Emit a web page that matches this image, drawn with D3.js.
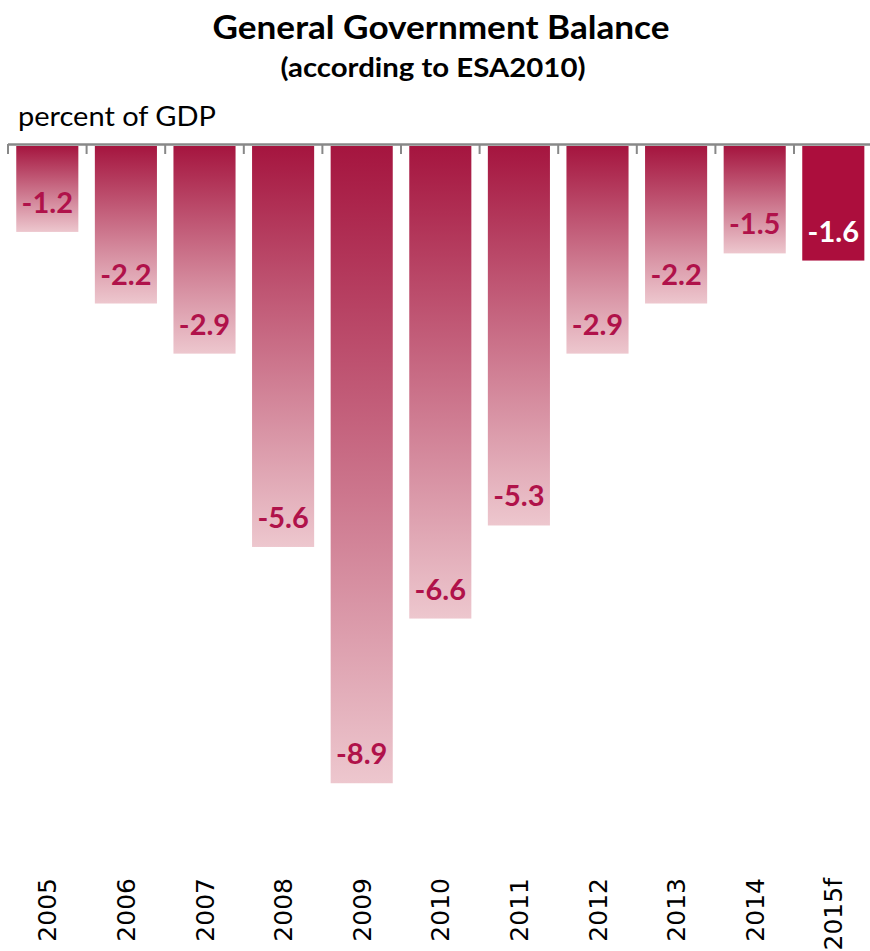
<!DOCTYPE html>
<html><head><meta charset="utf-8">
<script src="https://cdn.jsdelivr.net/npm/d3@7"></script>
<style>body{margin:0;background:#fff}svg{display:block}</style>
</head><body>
<svg id="c" width="870" height="951"></svg>
<script>
const years = ["2005","2006","2007","2008","2009","2010","2011","2012","2013","2014","2015f"];
const balance = [-1.2,-2.2,-2.9,-5.6,-8.9,-6.6,-5.3,-2.9,-2.2,-1.5,-1.6];
const forecast = [false,false,false,false,false,false,false,false,false,false,true];
const title = "General Government Balance";
const subtitle = "(according to ESA2010)";
const unitLabel = "percent of GDP";

const svg = d3.select("#c");
const x = d3.scaleBand().domain(years).range([8, 872.6]).paddingInner(0.21).paddingOuter(0.105);
const y = d3.scaleLinear().domain([-10, 0]).range([862, 146]);

const defs = svg.append("defs");
const g = defs.append("linearGradient").attr("id","grad").attr("x1",0).attr("y1",0).attr("x2",0).attr("y2",1);
g.append("stop").attr("offset","0%").attr("stop-color","#a5153f");
g.append("stop").attr("offset","100%").attr("stop-color","#edc7ce");

svg.append("text").attr("x",441).attr("y",39).attr("text-anchor","middle")
  .attr("font-family","Lato").attr("font-weight","bold").attr("font-size",33).attr("fill","#000")
  .attr("textLength",457).attr("lengthAdjust","spacingAndGlyphs").text(title);
svg.append("text").attr("x",433).attr("y",77).attr("text-anchor","middle")
  .attr("font-family","Lato").attr("font-weight","bold").attr("font-size",26).attr("fill","#000")
  .attr("textLength",305).attr("lengthAdjust","spacingAndGlyphs").text(subtitle);
svg.append("text").attr("x",18).attr("y",126)
  .attr("font-family","Lato").attr("font-size",26).attr("fill","#000")
  .attr("textLength",198).attr("lengthAdjust","spacingAndGlyphs").text(unitLabel);

svg.selectAll("rect.bar").data(years).join("rect").attr("class","bar")
  .attr("x", d => x(d)).attr("width", x.bandwidth())
  .attr("y", (d,i) => y(0)).attr("height", (d,i) => y(balance[i]) - y(0))
  .attr("fill", (d,i) => forecast[i] ? "#ac0e3d" : "url(#grad)");

svg.selectAll("text.val").data(years).join("text").attr("class","val")
  .attr("x", d => x(d) + x.bandwidth()/2).attr("y", (d,i) => y(balance[i]) - 19)
  .attr("text-anchor","middle").attr("font-family","Lato").attr("font-weight","bold").attr("font-size",29)
  .attr("fill", (d,i) => forecast[i] ? "#fff" : "#b0124a")
  .text((d,i) => balance[i].toFixed(1));

// axis line at zero
const off = (x.step() - x.bandwidth())/2;
svg.append("line").attr("x1",8).attr("x2",870).attr("y1",y(0)-1.5).attr("y2",y(0)-1.5)
  .attr("stroke","#888").attr("stroke-width",2.5);
svg.selectAll("line.tick").data(years).join("line").attr("class","tick")
  .attr("x1", d => x(d) - off).attr("x2", d => x(d) - off)
  .attr("y1", y(0)-2).attr("y2", y(0)+8).attr("stroke","#888").attr("stroke-width",2);

svg.selectAll("text.yr").data(years).join("text").attr("class","yr")
  .attr("transform", d => `translate(${x(d) + x.bandwidth()/2 + 9},878) rotate(-90)`)
  .attr("text-anchor","end").attr("font-family","DejaVu Sans").attr("font-size",25).attr("fill","#000")
  .text(d => d);
</script>
</body></html>
